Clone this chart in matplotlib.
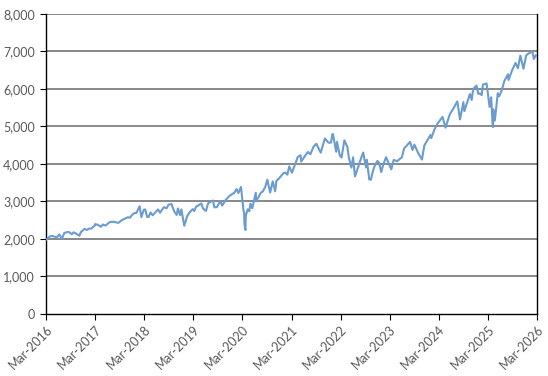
import matplotlib
matplotlib.use("Agg")
import matplotlib.pyplot as plt
import matplotlib.dates as mdates
import pandas as pd

dates = [
 "2016-03-01","2016-03-15","2016-04-01","2016-04-15","2016-05-01","2016-05-19","2016-06-08","2016-06-27",
 "2016-07-15","2016-08-15","2016-09-09","2016-09-22","2016-10-15","2016-11-04","2016-11-15","2016-12-13","2016-12-30",
 "2017-01-15","2017-02-01","2017-02-28","2017-03-01","2017-03-15","2017-04-13","2017-04-28","2017-05-17","2017-06-19",
 "2017-07-15","2017-08-10","2017-08-21","2017-09-15","2017-10-15","2017-11-01","2017-11-15","2017-12-01","2017-12-18",
 "2018-01-02","2018-01-26","2018-02-08","2018-02-26","2018-03-09","2018-03-23","2018-04-02","2018-04-18","2018-05-03",
 "2018-06-12","2018-06-27","2018-07-25","2018-08-15","2018-08-29","2018-09-20","2018-10-11","2018-10-29","2018-11-07",
 "2018-11-23","2018-12-03","2018-12-24",
 "2019-01-15","2019-02-01","2019-02-25","2019-03-08","2019-03-21","2019-04-30","2019-05-13","2019-06-03","2019-06-20",
 "2019-07-26","2019-08-05","2019-08-23","2019-09-19","2019-10-02","2019-10-28","2019-11-27","2019-12-31",
 "2020-01-17","2020-01-31","2020-02-19","2020-03-09","2020-03-13","2020-03-16","2020-03-23","2020-03-26","2020-04-09",
 "2020-04-21","2020-04-29","2020-05-13","2020-06-08","2020-06-11","2020-07-15","2020-07-31","2020-08-18","2020-09-02",
 "2020-09-23","2020-10-12","2020-10-30","2020-11-09","2020-11-30","2020-12-31",
 "2021-01-15","2021-01-29","2021-02-12","2021-03-04","2021-03-26","2021-04-16","2021-05-07","2021-05-12","2021-06-15",
 "2021-07-01","2021-07-19","2021-08-13","2021-09-02","2021-10-04","2021-11-04","2021-11-30","2021-12-20","2021-12-29",
 "2022-01-03","2022-01-27","2022-02-02","2022-02-23","2022-03-08","2022-03-29","2022-04-20","2022-05-02","2022-05-20",
 "2022-06-02","2022-06-16","2022-07-08","2022-07-29","2022-08-16","2022-09-06","2022-09-12","2022-09-30","2022-10-12",
 "2022-10-27","2022-11-10","2022-11-30","2022-12-13","2022-12-28",
 "2023-01-12","2023-02-02","2023-03-13","2023-03-31","2023-04-25","2023-05-31","2023-06-16","2023-07-31","2023-08-18",
 "2023-09-01","2023-09-29","2023-10-27","2023-11-14","2023-12-29",
 "2024-01-04","2024-01-29","2024-02-22","2024-03-28","2024-04-19","2024-05-21","2024-06-18","2024-07-16","2024-08-05",
 "2024-08-30","2024-09-06","2024-10-18","2024-10-31","2024-11-11","2024-12-06","2024-12-19","2024-12-31",
 "2025-01-13","2025-01-23","2025-02-19","2025-03-13","2025-03-25","2025-04-04","2025-04-08","2025-04-09","2025-04-21",
 "2025-05-13","2025-05-23","2025-06-13","2025-06-30","2025-07-28","2025-08-01","2025-08-28","2025-09-22","2025-10-10",
 "2025-10-28","2025-11-20","2025-12-11","2025-12-24",
 "2026-01-12","2026-01-27","2026-02-05","2026-02-20","2026-03-01",
]
values = [
 1980,2015,2072,2080,2065,2040,2119,2000,
 2161,2190,2128,2177,2133,2085,2180,2271,2239,
 2275,2279,2364,2395,2385,2328,2384,2357,2453,
 2459,2438,2428,2500,2553,2579,2565,2642,2690,
 2695,2873,2581,2780,2786,2588,2582,2708,2630,
 2787,2699,2846,2818,2914,2931,2729,2641,2814,
 2633,2790,2351,
 2610,2706,2796,2743,2854,2946,2812,2744,2954,
 3025,2844,2847,3006,2888,3039,3153,3231,
 3330,3225,3386,2746,2711,2386,2237,2630,2790,
 2737,2940,2820,3232,3002,3227,3271,3390,3580,
 3237,3534,3270,3550,3622,3756,
 3768,3714,3934,3768,3975,4185,4232,4063,4246,
 4320,4258,4468,4537,4300,4680,4567,4568,4793,
 4797,4326,4589,4225,4170,4631,4459,4155,3901,
 4176,3667,3899,4130,4305,3908,4110,3586,3577,
 3807,3956,4080,4020,3783,
 3983,4179,3855,4109,4071,4180,4410,4589,4370,
 4515,4288,4117,4496,4770,
 4688,4928,5087,5254,4967,5321,5487,5667,5186,
 5648,5408,5864,5705,6001,6090,5867,5882,
 5836,6118,6144,5522,5776,5074,4982,5457,5158,
 5886,5802,5977,6205,6390,6238,6502,6693,6552,
 6890,6538,6901,6932,
 6977,6978,6798,6900,6880,
]
tick_labels = ["Mar-2016","Mar-2017","Mar-2018","Mar-2019","Mar-2020","Mar-2021",
               "Mar-2022","Mar-2023","Mar-2024","Mar-2025","Mar-2026"]
y_ticks = [0,1000,2000,3000,4000,5000,6000,7000,8000]

x = pd.to_datetime(dates)
tick_pos = pd.to_datetime(["%s-03-01" % t[-4:] for t in tick_labels])

plt.rcParams['font.family'] = ['Lato', 'DejaVu Sans']
fig = plt.figure(figsize=(5.48, 3.76), dpi=100)
ax = fig.add_axes([0.084, 0.165, 0.896, 0.798])

for yv in y_ticks[1:]:
    ax.axhline(yv, color="#7f7f7f", lw=1.3, zorder=1)

ax.plot(x, values, color="#6a9bd1", lw=1.5, zorder=3)

ax.set_xlim(tick_pos[0], tick_pos[-1])
ax.set_ylim(0, 8000)
ax.set_yticks(y_ticks)
ax.set_yticklabels([f"{v:,}" for v in y_ticks])
ax.set_xticks(tick_pos)
ax.set_xticklabels(tick_labels, rotation=45, ha="right", rotation_mode="anchor")

for s in ["left", "bottom", "right"]:
    ax.spines[s].set_color("#000000")
    ax.spines[s].set_linewidth(1.0)
ax.spines["top"].set_visible(False)
ax.tick_params(axis="both", colors="#000000", labelcolor="#595959", labelsize=9,
               direction="out", length=4, width=0.8)
ax.tick_params(axis="y", pad=4)
ax.tick_params(axis="x", pad=3)

fig.savefig("out.png", dpi=100)
